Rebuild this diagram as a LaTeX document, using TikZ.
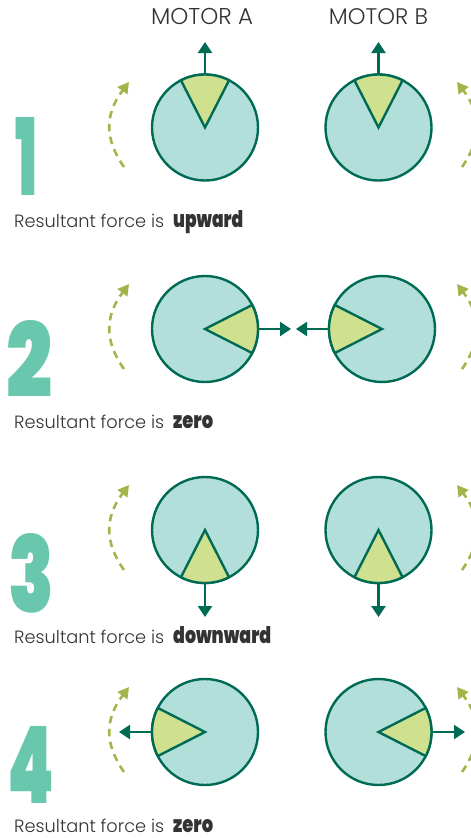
\documentclass[tikz,border=0pt]{standalone}
\usepackage{fontspec}
\usepackage{graphicx}
\usetikzlibrary{arrows.meta}
\setmainfont{Poppins}[UprightFont=* Light,BoldFont=* Black]
\definecolor{disc}{HTML}{B2DFDA}
\definecolor{rim}{HTML}{006B54}
\definecolor{wedgec}{HTML}{CFE08F}
\definecolor{numc}{HTML}{69C7AE}
\definecolor{arcc}{HTML}{A3B54A}
\definecolor{txt}{HTML}{333333}
\tikzset{
  x=1pt,y=-1pt,
  disc/.style={circle,draw=rim,fill=disc,line width=2.4pt,minimum size=106pt,inner sep=0pt,outer sep=0pt},
  wedgeshape/.style={draw=rim,fill=wedgec,line width=2.4pt,line join=miter},
  force/.style={draw=rim,line width=2.4pt,-{Triangle[length=11pt,width=14pt]}},
  spin/.style={draw=arcc,line width=2.6pt,dash pattern=on 7.5pt off 5.5pt,-{Triangle[length=11pt,width=12pt,fill=arcc]}},
  numeral/.style={text=numc,inner sep=0pt,anchor=north west},
  caption/.style={text=txt,inner sep=0pt,anchor=base west},
  motor/.style={text=txt,inner sep=0pt,anchor=base},
}
\newcommand{\wedgeat}[2]{%
  \draw[wedgeshape] (#1.center) -- ++({cos(#2-27)*53},{-sin(#2-27)*53})
    arc[start angle={-(#2-27)},delta angle={-54},radius=53] -- cycle;
}
\newcommand{\spinpair}[1]{%
  \coordinate (la#1) at (124,#1+40);
  \coordinate (lb#1) at (129,#1-45);
  \coordinate (ra#1) at (462,#1+40);
  \coordinate (rb#1) at (457,#1-45);
  \draw[spin] (la#1) .. controls +(-19,-27) and +(-25,33) .. (lb#1);
  \draw[spin] (ra#1) .. controls +(19,-27) and +(25,33) .. (rb#1);
}
\begin{document}
\begin{tikzpicture}
\useasboundingbox (0,0) rectangle (471,838);
\clip (0,0) rectangle (471,838);

\node[motor] (ma) at (202,24.5) {\resizebox{102pt}{!}{MOTOR A}};
\node[motor] (mb) at (378.5,24.5) {\resizebox{99pt}{!}{MOTOR B}};

% row 1
\node[disc] (a1) at (205,127.5) {};
\node[disc] (b1) at (378.5,127.5) {};
\wedgeat{a1}{90}\wedgeat{b1}{90}
\coordinate (a1t) at (205,42);
\coordinate (b1t) at (378.5,42);
\draw[force] (a1.north) -- (a1t);
\draw[force] (b1.north) -- (b1t);
\spinpair{127}
\node[numeral] (n1) at (15,117) {\resizebox{22pt}{78pt}{\textbf{1}}};
\node[caption] (c1) at (14,227) {\resizebox{150pt}{!}{Resultant force is}};
\node[caption] (d1) at (173,227) {\resizebox{70pt}{17pt}{\textbf{upward}}};

% row 2
\node[disc] (a2) at (205,329) {};
\node[disc] (b2) at (382,329) {};
\wedgeat{a2}{0}\wedgeat{b2}{180}
\coordinate (a2t) at (291,329);
\coordinate (b2t) at (296,329);
\draw[force] (a2.east) -- (a2t);
\draw[force] (b2.west) -- (b2t);
\spinpair{329}
\node[numeral] (n2) at (6,320) {\resizebox{46pt}{77pt}{\textbf{2}}};
\node[caption] (c2) at (14,428) {\resizebox{150pt}{!}{Resultant force is}};
\node[caption] (d2) at (173,428) {\resizebox{40pt}{13pt}{\textbf{zero}}};

% row 3
\node[disc] (a3) at (205,530) {};
\node[disc] (b3) at (378.5,530) {};
\wedgeat{a3}{270}\wedgeat{b3}{270}
\coordinate (a3t) at (205,617);
\coordinate (b3t) at (378.5,617);
\draw[force] (a3.south) -- (a3t);
\draw[force] (b3.south) -- (b3t);
\spinpair{530}
\node[numeral] (n3) at (8,533) {\resizebox{46pt}{79pt}{\textbf{3}}};
\node[caption] (c3) at (14,643) {\resizebox{150pt}{!}{Resultant force is}};
\node[caption] (d3) at (173,643) {\resizebox{98pt}{17pt}{\textbf{downward}}};

% row 4
\node[disc] (a4) at (205,732) {};
\node[disc] (b4) at (378.5,732) {};
\wedgeat{a4}{180}\wedgeat{b4}{0}
\coordinate (a4t) at (119,732);
\coordinate (b4t) at (465,732);
\draw[force] (a4.west) -- (a4t);
\draw[force] (b4.east) -- (b4t);
\spinpair{732}
\node[numeral] (n4) at (7,726) {\resizebox{47pt}{77pt}{\textbf{4}}};
\node[caption] (c4) at (14,832) {\resizebox{150pt}{!}{Resultant force is}};
\node[caption] (d4) at (173,832) {\resizebox{40pt}{13pt}{\textbf{zero}}};
\end{tikzpicture}
\end{document}
